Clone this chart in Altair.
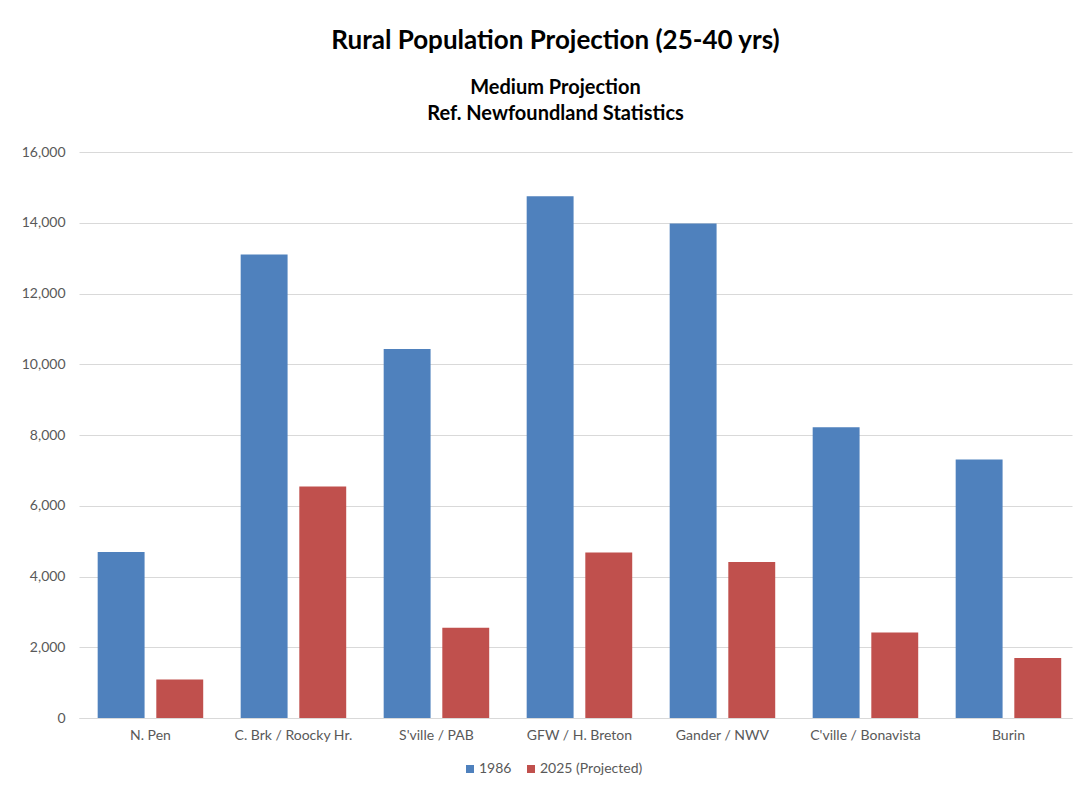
import altair as alt
import pandas as pd

categories = ["N. Pen", "C. Brk / Roocky Hr.", "S'ville / PAB", "GFW / H. Breton",
              "Gander / NWV", "C'ville / Bonavista", "Burin"]
series = ["1986", "2025 (Projected)"]
values_1986 = [4690, 13100, 10430, 14750, 13980, 8220, 7310]
values_2025 = [1085, 6545, 2550, 4680, 4410, 2420, 1695]
y_ticks = [0, 2000, 4000, 6000, 8000, 10000, 12000, 14000, 16000]
colors = ["#4F81BD", "#C0504D"]

rows = []
for c, a, b in zip(categories, values_1986, values_2025):
    rows.append({"region": c, "series": series[0], "value": a})
    rows.append({"region": c, "series": series[1], "value": b})
df = pd.DataFrame(rows)

FONT = "Lato"
LABEL = "#595959"

chart = alt.Chart(df).mark_bar().encode(
    x=alt.X("region:N", sort=categories, title=None,
            scale=alt.Scale(paddingInner=0.262, paddingOuter=0.103, align=0.634),
            axis=alt.Axis(labelAngle=0, labelFontSize=14, labelColor=LABEL, labelFont=FONT,
                          domainColor="#D9D9D9", domainWidth=1, ticks=False, labelPadding=10,
                          grid=False)),
    xOffset=alt.XOffset("series:N", sort=series, scale=alt.Scale(paddingInner=0.2)),
    y=alt.Y("value:Q", title=None, scale=alt.Scale(domain=[0, 16000], nice=False),
            axis=alt.Axis(values=y_ticks, format=",d", domain=False, ticks=False,
                          labelPadding=14, gridColor="#D9D9D9", gridWidth=1,
                          labelFontSize=14, labelColor=LABEL, labelFont=FONT)),
    color=alt.Color("series:N", sort=series,
                    scale=alt.Scale(domain=series, range=colors),
                    legend=alt.Legend(title=None, orient="none", direction="horizontal",
                                      legendX=384, legendY=610, symbolType="square",
                                      symbolSize=64, symbolStrokeWidth=0,
                                      labelFontSize=14, labelColor=LABEL, labelFont=FONT,
                                      columnPadding=12, labelOffset=2)),
).properties(
    width=993,
    height=566,
    title=alt.TitleParams(
        text="Rural Population Projection (25-40 yrs)",
        subtitle=["Medium Projection", "Ref. Newfoundland Statistics"],
        font=FONT, subtitleFont=FONT,
        fontSize=26, subtitleFontSize=20,
        fontWeight="bold", subtitleFontWeight="bold",
        color="#000000", subtitleColor="#000000",
        anchor="middle", dx=-20, offset=21,
        subtitlePadding=24, subtitleLineHeight=26,
    ),
    autosize=alt.AutoSizeParams(type="none"),
    padding={"left": 71, "top": 144, "right": 1, "bottom": 62},
).configure(background="white").configure_view(strokeWidth=0, stroke="transparent")

chart.save("out.html", embed_options={"renderer": "svg", "actions": False})
